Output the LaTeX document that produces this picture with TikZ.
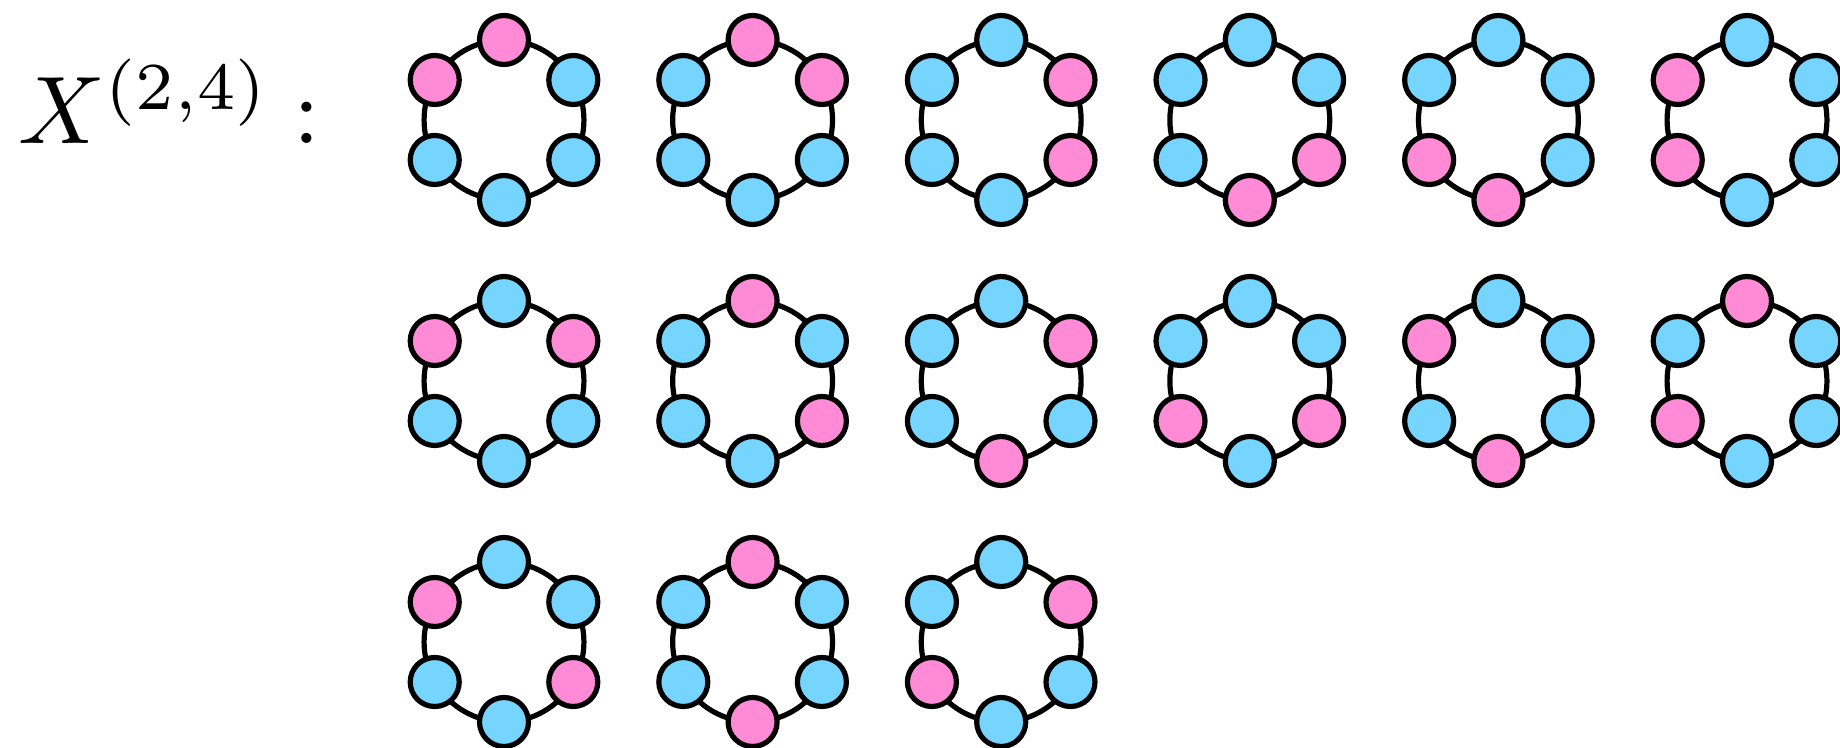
\documentclass[tikz,border=0pt]{standalone}
\usetikzlibrary{calc}
\definecolor{pinkc}{HTML}{FF8AD6}
\definecolor{bluec}{HTML}{76D5FF}
\tikzset{
  dot/.style={circle,draw=black,line width=2.6pt,minimum size=24.5pt,inner sep=0pt},
  ringline/.style={line width=2.6pt,black},
  lbl/.style={inner sep=0pt,scale=4.8}
}
\newcommand\hexring[3]{%
  \coordinate (#1) at #2;
  \foreach \i in {1,...,6} {
    \pgfmathsetmacro\ang{90-60*(\i-1)}
    \coordinate (#1-p\i) at ($(#1)+(\ang:80)$);
  }
  \foreach \i [evaluate=\i as \j using {int(mod(\i,6)+1)}] in {1,...,6}
    \draw[ringline] (#1-p\i) to[bend left=30,looseness=0.91] (#1-p\j);
  \foreach \c [count=\i] in {#3}
    \node[dot,fill=\c] (#1-\i) at (#1-p\i) {};
}
\begin{document}
\begin{tikzpicture}[x=0.5pt,y=0.5pt]
\useasboundingbox (0,0) rectangle (1840,748);
\node[lbl,anchor=base west] (xlab) at (17,604) {$X^{(2,4)}$};
\node[lbl,anchor=base] (colon) at (307,604) {$:$};
% row 1
\hexring{a1}{(504,628)}{pinkc,bluec,bluec,bluec,bluec,pinkc}
\hexring{a2}{(752.6,628)}{pinkc,pinkc,bluec,bluec,bluec,bluec}
\hexring{a3}{(1001.2,628)}{bluec,pinkc,pinkc,bluec,bluec,bluec}
\hexring{a4}{(1249.8,628)}{bluec,bluec,pinkc,pinkc,bluec,bluec}
\hexring{a5}{(1498.4,628)}{bluec,bluec,bluec,pinkc,pinkc,bluec}
\hexring{a6}{(1747,628)}{bluec,bluec,bluec,bluec,pinkc,pinkc}
% row 2
\hexring{b1}{(504,367)}{bluec,pinkc,bluec,bluec,bluec,pinkc}
\hexring{b2}{(752.6,367)}{pinkc,bluec,pinkc,bluec,bluec,bluec}
\hexring{b3}{(1001.2,367)}{bluec,pinkc,bluec,pinkc,bluec,bluec}
\hexring{b4}{(1249.8,367)}{bluec,bluec,pinkc,bluec,pinkc,bluec}
\hexring{b5}{(1498.4,367)}{bluec,bluec,bluec,pinkc,bluec,pinkc}
\hexring{b6}{(1747,367)}{pinkc,bluec,bluec,bluec,pinkc,bluec}
% row 3
\hexring{c1}{(504,106)}{bluec,bluec,pinkc,bluec,bluec,pinkc}
\hexring{c2}{(752.6,106)}{pinkc,bluec,bluec,pinkc,bluec,bluec}
\hexring{c3}{(1001.2,106)}{bluec,pinkc,bluec,bluec,pinkc,bluec}
\end{tikzpicture}
\end{document}
